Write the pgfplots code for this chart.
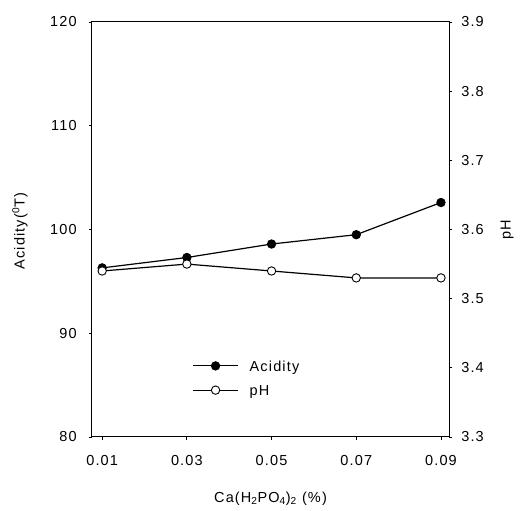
\documentclass[border=0pt]{standalone}
\usepackage{pgfplots}
\pgfplotsset{compat=1.18}
\usepackage{fontspec}
\setmainfont{Liberation Sans}[LetterSpace=8]
\begin{document}
\fontsize{14.5}{17}\selectfont
\begin{tikzpicture}
\pgfplotsset{
  every axis/.append style={
    scale only axis, width=357pt, height=415pt,
    xmin=0.0076, xmax=0.0919,
    /pgf/number format/assume math mode=true,
    tick style={black, line width=0.8pt},
    major tick length=3pt,
    tick align=outside,
    line width=1pt,
    font=\fontsize{14.5}{17}\selectfont,
  }
}
\begin{axis}[
  name=ax,
  ymin=80, ymax=120,
  ytick={80,90,100,110,120},
  xtick={0.01,0.03,0.05,0.07,0.09},
  scaled x ticks=false,
  xticklabel style={/pgf/number format/fixed,/pgf/number format/fixed zerofill,/pgf/number format/precision=2, yshift=-10pt},
  xtick pos=bottom, ytick pos=left,
  yticklabel style={xshift=-7pt},
  xlabel={Ca(H\textsubscript{2}PO\textsubscript{4})\textsubscript{2} (\%)},
  xlabel style={at={(axis description cs:0.5,-0.149)},anchor=center},
  ylabel={Acidity(\textsuperscript{0}T)},
  ylabel style={at={(axis description cs:-0.2017,0.496)},anchor=center},
  legend style={draw=none, fill=none, at={(axis description cs:0.28,0.19)}, anchor=north west,
    row sep=10pt, inner sep=0pt, nodes={inner sep=2pt, text depth=0pt}, font=\fontsize{14.5}{17}\selectfont,
    /tikz/every odd column/.append style={column sep=9pt}},
  legend cell align=left,
  legend image code/.code={
    \draw[#1] (0pt,0pt) -- (45pt,0pt);
    \draw[#1, only marks] plot coordinates {(22.5pt,0pt)};
  },
]
\addplot[black, line width=1.2pt, mark=*, mark size=4.2pt, mark options={fill=black, line width=0.9pt}]
  coordinates {(0.01,96.3) (0.03,97.3) (0.05,98.6) (0.07,99.5) (0.09,102.6)};
\addlegendentry{Acidity}
\addlegendimage{black, line width=1.2pt, mark=*, mark size=4.2pt, mark options={fill=white, line width=0.9pt}}
\addlegendentry{pH}
\end{axis}
\begin{axis}[
  ymin=3.3, ymax=3.9,
  ytick={3.3,3.4,3.5,3.6,3.7,3.8,3.9},
  yticklabel style={/pgf/number format/fixed,/pgf/number format/fixed zerofill,/pgf/number format/precision=1, xshift=4pt},
  axis x line=none,
  axis y line*=right,
  y axis line style={-},
  ylabel={pH},
  ylabel style={at={(axis description cs:1.163,0.5)},anchor=center},
]
\addplot[black, line width=1.2pt, mark=*, mark size=4.2pt, mark options={fill=white, line width=0.9pt}]
  coordinates {(0.01,3.54) (0.03,3.55) (0.05,3.54) (0.07,3.53) (0.09,3.53)};
\end{axis}
\path[use as bounding box] ([xshift=-92pt,yshift=-73pt]ax.south west) rectangle ([xshift=76pt,yshift=22pt]ax.north east);
\end{tikzpicture}
\end{document}
